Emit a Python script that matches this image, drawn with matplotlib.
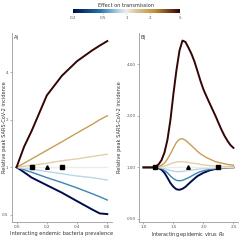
import matplotlib
matplotlib.use("Agg")
import matplotlib.pyplot as plt
from matplotlib.colors import LinearSegmentedColormap, LogNorm
from matplotlib.cm import ScalarMappable

# effect of the interaction on SARS-CoV-2 transmission (one line each)
effects = [0.2, 0.5, 0.8, 1, 1.25, 2, 5]

# panel A: prevalence of the interacting endemic bacteria
prev = [0, 0.05, 0.1, 0.2, 0.3, 0.4, 0.5, 0.55, 0.6]
a_02 = [1, 0.93, 0.86, 0.77, 0.69, 0.61, 0.54, 0.51, 0.505]
a_05 = [1, 0.965, 0.93, 0.86, 0.80, 0.74, 0.68, 0.65, 0.62]
a_08 = [1, 0.985, 0.97, 0.94, 0.91, 0.88, 0.86, 0.845, 0.83]
a_1 = [1, 1, 1, 1, 1, 1, 1, 1, 1]
a_125 = [1, 1.015, 1.03, 1.06, 1.10, 1.13, 1.17, 1.19, 1.21]
a_2 = [1, 1.06, 1.13, 1.28, 1.45, 1.65, 1.87, 2.0, 2.12]
a_5 = [1, 1.35, 1.7, 2.85, 3.8, 4.7, 5.5, 5.9, 6.3]
a_marks_x = [0.1, 0.2, 0.3]
a_marks = ["s", "^", "s"]

# panel B: R0 of the interacting epidemic virus
r0 = [1.0, 1.05, 1.1, 1.15, 1.2, 1.25, 1.3, 1.35, 1.4, 1.45, 1.5, 1.55, 1.6,
      1.65, 1.7, 1.75, 1.8, 1.85, 1.9, 1.95, 2.0, 2.05, 2.1, 2.15, 2.2, 2.25,
      2.3, 2.35, 2.4, 2.45, 2.5]
b_02 = [1, 1, 1, 1, 1, 0.99, 0.97, 0.93, 0.87, 0.81, 0.77, 0.745, 0.74,
        0.75, 0.77, 0.80, 0.83, 0.86, 0.89, 0.91, 0.93, 0.945, 0.96, 0.97,
        0.978, 0.985, 0.99, 0.994, 0.997, 0.999, 1]
b_05 = [1, 1, 1, 1, 1, 1, 0.985, 0.96, 0.93, 0.89, 0.86, 0.84, 0.835,
        0.84, 0.855, 0.87, 0.89, 0.91, 0.93, 0.945, 0.955, 0.965, 0.972,
        0.978, 0.984, 0.988, 0.992, 0.995, 0.997, 0.999, 1]
b_08 = [1, 1, 1, 1, 1, 1, 0.995, 0.985, 0.97, 0.96, 0.95, 0.945, 0.945,
        0.948, 0.953, 0.96, 0.965, 0.97, 0.975, 0.98, 0.983, 0.986, 0.989,
        0.991, 0.993, 0.995, 0.996, 0.997, 0.998, 0.999, 1]
b_1 = [1] * 31
b_125 = [1, 1, 1, 1, 1, 1, 1.01, 1.02, 1.03, 1.05, 1.065, 1.075, 1.08,
         1.08, 1.075, 1.07, 1.06, 1.055, 1.05, 1.04, 1.035, 1.03, 1.025,
         1.02, 1.018, 1.015, 1.012, 1.01, 1.01, 1.008, 1.005]
b_2 = [1, 1, 1, 1, 1, 1.01, 1.03, 1.06, 1.12, 1.2, 1.3, 1.4, 1.46, 1.47,
       1.44, 1.39, 1.34, 1.29, 1.24, 1.2, 1.17, 1.14, 1.12, 1.1, 1.08, 1.07,
       1.06, 1.05, 1.04, 1.035, 1.03]
b_5 = [1, 1, 1, 1, 1.01, 1.04, 1.1, 1.22, 1.45, 1.9, 2.7, 3.7, 4.8, 5.5,
       5.4, 5.0, 4.6, 4.15, 3.65, 3.2, 2.85, 2.6, 2.38, 2.18, 2.0, 1.82,
       1.66, 1.53, 1.43, 1.35, 1.3]
b_marks_x = [1.2, 1.75, 2.25]
b_marks = ["s", "^", "s"]

ticks_y = [0.5, 1, 2, 4]
ticklab_a = ["0.5", "1", "2", "4"]
ticklab_b = ["0.50", "1.00", "2.00", "4.00"]
cbar_ticks = [0.2, 0.5, 1, 2, 5]

vik = LinearSegmentedColormap.from_list("vik", [
    (0.0, (0.0, 0.05, 0.30)),
    (0.25, (0.13, 0.45, 0.66)),
    (0.43, (0.72, 0.84, 0.90)),
    (0.5, (0.93, 0.93, 0.91)),
    (0.58, (0.88, 0.79, 0.62)),
    (0.77, (0.75, 0.55, 0.22)),
    (1.0, (0.20, 0.02, 0.02)),
])
norm = LogNorm(0.2, 5)

fig = plt.figure(figsize=(2.4, 2.4), dpi=100)
ax_a = fig.add_axes([0.05, 0.075, 0.416, 0.788])
ax_b = fig.add_axes([0.579, 0.075, 0.4125, 0.788])

grey = "#555555"


def style(ax, labels, lab_x):
    ax.set_yscale("log")
    ax.yaxis.set_major_locator(plt.FixedLocator(ticks_y))
    ax.yaxis.set_minor_locator(plt.NullLocator())
    ax.set_yticklabels(labels)
    for s in ["top", "right"]:
        ax.spines[s].set_visible(False)
    for s in ["left", "bottom"]:
        ax.spines[s].set_color("#9a9a9a")
        ax.spines[s].set_linewidth(0.6)
    ax.tick_params(labelsize=3, colors="#9a9a9a", labelcolor=grey,
                   length=1.5, width=0.5, pad=1)
    ax.set_ylabel("Relative peak SARS-CoV-2 incidence", fontsize=3.6,
                  color="#333333")
    ax.yaxis.set_label_coords(lab_x, 0.5)


series_a = [a_02, a_05, a_08, a_1, a_125, a_2, a_5]
series_b = [b_02, b_05, b_08, b_1, b_125, b_2, b_5]
for eff, ya, yb in zip(effects, series_a, series_b):
    c = vik(norm(eff))
    lw = 1.4 if eff in (0.2, 5) else 1.0
    ax_a.plot(prev, ya, color=c, lw=lw, zorder=2)
    ax_b.plot(r0, yb, color=c, lw=lw, zorder=2)

for x, m in zip(a_marks_x, a_marks):
    ax_a.plot(x, 1, marker=m, color="black", ms=2.6, zorder=3)
for x, m in zip(b_marks_x, b_marks):
    ax_b.plot(x, 1, marker=m, color="black", ms=2.6, zorder=3)

style(ax_a, ticklab_a, -0.055)
ax_a.set_xlim(-0.03, 0.63)
ax_a.set_ylim(0.45, 7.1)
ax_a.set_xticks([0, 0.2, 0.4, 0.6])
ax_a.set_xticklabels(["0.0", "0.2", "0.4", "0.6"])
ax_a.set_xlabel("Interacting endemic bacteria prevalence", fontsize=3.6,
                color="#333333", labelpad=1)
ax_a.text(0.02, 0.99, "A)", transform=ax_a.transAxes, fontsize=3.6,
          va="top", ha="left", color="#333333")

style(ax_b, ticklab_b, -0.17)
ax_b.set_xlim(0.925, 2.575)
ax_b.set_ylim(0.48, 6.1)
ax_b.set_xticks([1.0, 1.5, 2.0, 2.5])
ax_b.set_xticklabels(["1.0", "1.5", "2.0", "2.5"])
ax_b.set_xlabel("Interacting epidemic virus $R_0$", fontsize=3.6,
                color="#333333", labelpad=0.5)
ax_b.text(0.02, 0.99, "B)", transform=ax_b.transAxes, fontsize=3.6,
          va="top", ha="left", color="#333333")

# colour bar for the effect on transmission
cax = fig.add_axes([0.304, 0.946, 0.446, 0.017])
cb = fig.colorbar(ScalarMappable(norm=norm, cmap=vik), cax=cax,
                  orientation="horizontal", ticks=cbar_ticks)
cb.ax.set_xticklabels([str(t) for t in cbar_ticks])
cb.ax.minorticks_off()
cb.outline.set_visible(False)
cb.ax.tick_params(labelsize=3, colors="#9a9a9a", labelcolor=grey,
                  length=1, width=0.4, pad=1)
cb.ax.set_title("Effect on transmission", fontsize=3.6, color="#333333", pad=1.5)

fig.savefig("out.png", dpi=100, facecolor="white")
